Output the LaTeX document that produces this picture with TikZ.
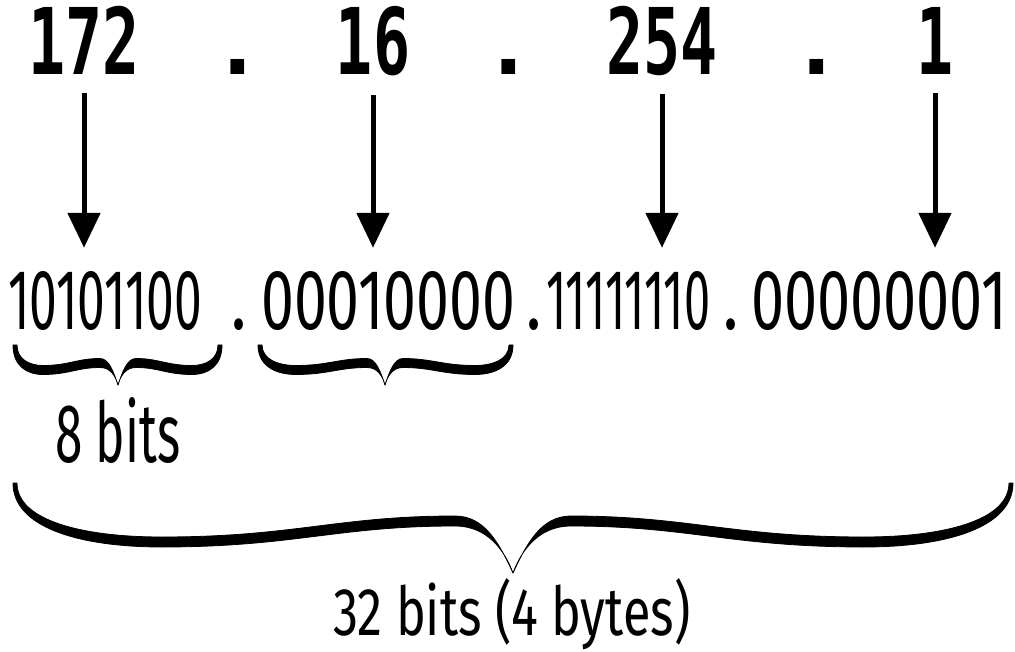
\documentclass[tikz,border=0pt]{standalone}
\usepackage{fontspec}
\setmainfont{Fira Sans}[Numbers=Proportional]
\newfontfamily\monofnt{DejaVu Sans Mono}
\usetikzlibrary{arrows.meta}
\newcommand\halfbrace[7]{% W H bx by mx my t
  \pgfmathsetmacro\hbA{#4+#7/2}%
  \pgfmathsetmacro\hbB{#4-#7/2}%
  \pgfmathsetmacro\hbC{#6+#7/2}%
  \pgfmathsetmacro\hbD{#6-#7/2}%
  \filldraw[line width=0.8pt, line join=round]
    (0,0) .. controls (0,{0.7*\hbA}) and ({0.45*#3},\hbA) .. (#3,\hbA)
    .. controls ({#3+0.45*(#5-#3)},\hbA) and ({#5-0.4*(#5-#3)},\hbC) .. (#5,\hbC)
    .. controls ({#5+0.55*(#1-#5)},\hbC) and ({#1-0.15*(#1-#5)},{#2-0.45*(#2-#6)}) .. (#1,#2)
    .. controls ({#1-0.25*(#1-#5)},{#2-0.6*(#2-#6)}) and ({#5+0.5*(#1-#5)},\hbD) .. (#5,\hbD)
    .. controls ({#5-0.4*(#5-#3)},\hbD) and ({#3+0.45*(#5-#3)},\hbB) .. (#3,\hbB)
    .. controls ({0.45*#3+3},\hbB) and (4,{0.7*\hbB}) .. (4,0) -- cycle;}
\tikzset{
  topnum/.style={inner sep=0pt, anchor=base, font=\monofnt\bfseries\fontsize{92}{92}\selectfont},
  topdot/.style={inner sep=0pt, anchor=base, font=\monofnt\bfseries\fontsize{84}{84}\selectfont},
  bingrp/.style={inner sep=0pt, anchor=base west},
  bindot/.style={inner sep=0pt, anchor=base, font=\fontsize{84}{84}\selectfont},
  lbl/.style={inner sep=0pt, anchor=base west},
  arr/.style={line width=5pt, -{Triangle[width=32pt,length=35pt]}, shorten <=18pt, shorten >=24pt}
}
\begin{document}
\begin{tikzpicture}[x=1pt,y=-1pt]
\useasboundingbox (0,0) rectangle (1015,652);
% top row
\node[topnum] (n1) at (84,75) {\scalebox{0.67}[1]{172}};
\node[topdot] (p1) at (238,75) {.};
\node[topnum] (n2) at (373,75) {\scalebox{0.67}[1]{16}};
\node[topdot] (p2) at (509,75) {.};
\node[topnum] (n3) at (662,75) {\scalebox{0.67}[1]{254}};
\node[topdot] (p3) at (817,75) {.};
\node[topnum] (n4) at (935,75) {\scalebox{0.67}[1]{1}};
% binary row
\node[bingrp] (b1) at (8,330) {\resizebox{194pt}{58pt}{10101100}};
\node[bindot] (q1) at (239,330) {\scalebox{0.75}[1]{.}};
\node[bingrp] (b2) at (261,330) {\resizebox{254pt}{58pt}{00010000}};
\node[bindot] (q2) at (534,330) {\scalebox{0.75}[1]{.}};
\node[bingrp] (b3) at (546,330) {\resizebox{164pt}{58pt}{11111110}};
\node[bindot] (q3) at (731,330) {\scalebox{0.75}[1]{.}};
\node[bingrp] (b4) at (751,330) {\resizebox{256pt}{58pt}{00000001}};
% arrows
\draw[arr] (n1.south) -- (n1.south |- b1.north);
\draw[arr] (n2.south) -- (n2.south |- b2.north);
\draw[arr] (n3.south) -- (n3.south |- b3.north);
\draw[arr] (n4.south) -- (n4.south |- b4.north);
% small brace 1
\begin{scope}[shift={(13,345)}]\halfbrace{105}{40}{30}{25}{87}{18}{9}\end{scope}
\begin{scope}[shift={(222,345)},xscale=-1]\halfbrace{104}{40}{30}{25}{86}{18}{9}\end{scope}
% small brace 2
\begin{scope}[shift={(258,345)}]\halfbrace{127}{40}{38}{25}{109}{18}{9}\end{scope}
\begin{scope}[shift={(513,345)},xscale=-1]\halfbrace{128}{40}{38}{25}{110}{18}{9}\end{scope}
% labels
\node[lbl] (l8) at (55,462) {\resizebox{125pt}{65pt}{8 bits}};
% big brace
\begin{scope}[shift={(13,483)}]\halfbrace{500}{90}{149}{59}{442}{38}{10}\end{scope}
\begin{scope}[shift={(1013,483)},xscale=-1]\halfbrace{500}{90}{149}{59}{442}{38}{10}\end{scope}
\node[lbl] (l32) at (333,635) {\resizebox{357pt}{57pt}{32 bits (4 bytes)}};
\end{tikzpicture}
\end{document}
